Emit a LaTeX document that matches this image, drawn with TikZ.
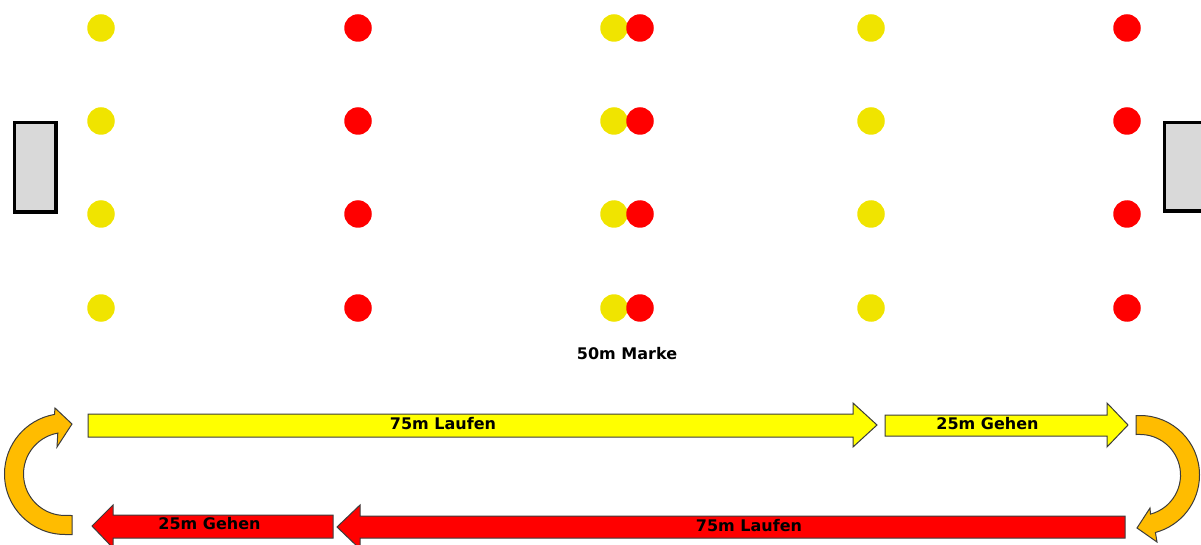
\documentclass[tikz,border=0pt]{standalone}
\usepackage{fontspec}
\setmainfont{DejaVu Sans}
\definecolor{dotyellow}{RGB}{240,228,0}
\definecolor{dotred}{RGB}{255,0,0}
\definecolor{arryellow}{RGB}{255,255,0}
\definecolor{arrred}{RGB}{255,0,0}
\definecolor{arrorange}{RGB}{255,188,0}
\definecolor{goalgray}{RGB}{217,217,217}
\definecolor{edge}{RGB}{60,60,60}
\begin{document}
\begin{tikzpicture}[x=1pt,y=1pt,
  ydot/.style={circle,fill=dotyellow,minimum size=27.5pt,inner sep=0pt},
  rdot/.style={circle,fill=dotred,minimum size=27.5pt,inner sep=0pt},
  goal/.style={draw=black,fill=goalgray,line width=3.5pt},
  yarrow/.style={draw=edge,fill=arryellow,line width=1pt,line join=miter},
  rarrow/.style={draw=edge,fill=arrred,line width=1pt,line join=miter},
  oarrow/.style={draw=edge,fill=arrorange,line width=1pt,line join=miter},
  lbl/.style={font=\bfseries\fontsize{16}{19}\selectfont,inner sep=0pt,anchor=base}]
\useasboundingbox (0,0) rectangle (1201,-545);
\clip (0,0) rectangle (1201,-545);
% goals
\draw[goal] (14.5,-122.5) rectangle (56,-212);
\draw[goal] (1164.5,-122.5) rectangle (1206,-211);
% dots
\foreach \y [count=\i] in {28,121,214,308}{
  \node[ydot] (y1-\i) at (101,-\y) {};
  \node[rdot] (r1-\i) at (358,-\y) {};
  \node[ydot] (y2-\i) at (614,-\y) {};
  \node[rdot] (r2-\i) at (640,-\y) {};
  \node[ydot] (y3-\i) at (871,-\y) {};
  \node[rdot] (r3-\i) at (1127,-\y) {};
}
\node[lbl] (marke) at (627,-359) {50m Marke};
% top yellow arrows
\draw[yarrow] (88,-414) -- (853,-414) -- (853,-403) -- (877,-425) -- (853,-447) -- (853,-437) -- (88,-437) -- cycle;
\draw[yarrow] (885,-415) -- (1107,-415) -- (1107,-403) -- (1128,-425) -- (1107,-447) -- (1107,-436) -- (885,-436) -- cycle;
% bottom red arrows
\draw[rarrow] (1125,-516) -- (360,-516) -- (360,-505) -- (337,-527) -- (360,-549) -- (360,-538) -- (1125,-538) -- cycle;
\draw[rarrow] (333,-515) -- (113,-515) -- (113,-505) -- (92,-526) -- (113,-548) -- (113,-538) -- (333,-538) -- cycle;
% orange turning arrows
\draw[oarrow] (72,-534.5) -- (65,-534.5) arc[start angle=270,end angle=100,radius=60.5]
  -- (55,-408) -- (72,-424) -- (57,-447) -- (57.8,-433.1)
  arc[start angle=100,end angle=270,radius=41.5] -- (72,-515.5) -- cycle;
\draw[oarrow] (1136,-415.5) -- (1140,-415.5) arc[start angle=90,end angle=-75,radius=59.5]
  -- (1157,-542) -- (1137,-528) -- (1150,-508) -- (1150.5,-514.1)
  arc[start angle=-75,end angle=90,radius=40.5] -- (1136,-434.5) -- cycle;
% labels
\node[lbl] (l75top) at (443,-429.5) {75m Laufen};
\node[lbl] (g25top) at (987.5,-429.5) {25m Gehen};
\node[lbl] (g25bot) at (209.5,-529.5) {25m Gehen};
\node[lbl] (l75bot) at (749,-531.5) {75m Laufen};
\end{tikzpicture}
\end{document}
